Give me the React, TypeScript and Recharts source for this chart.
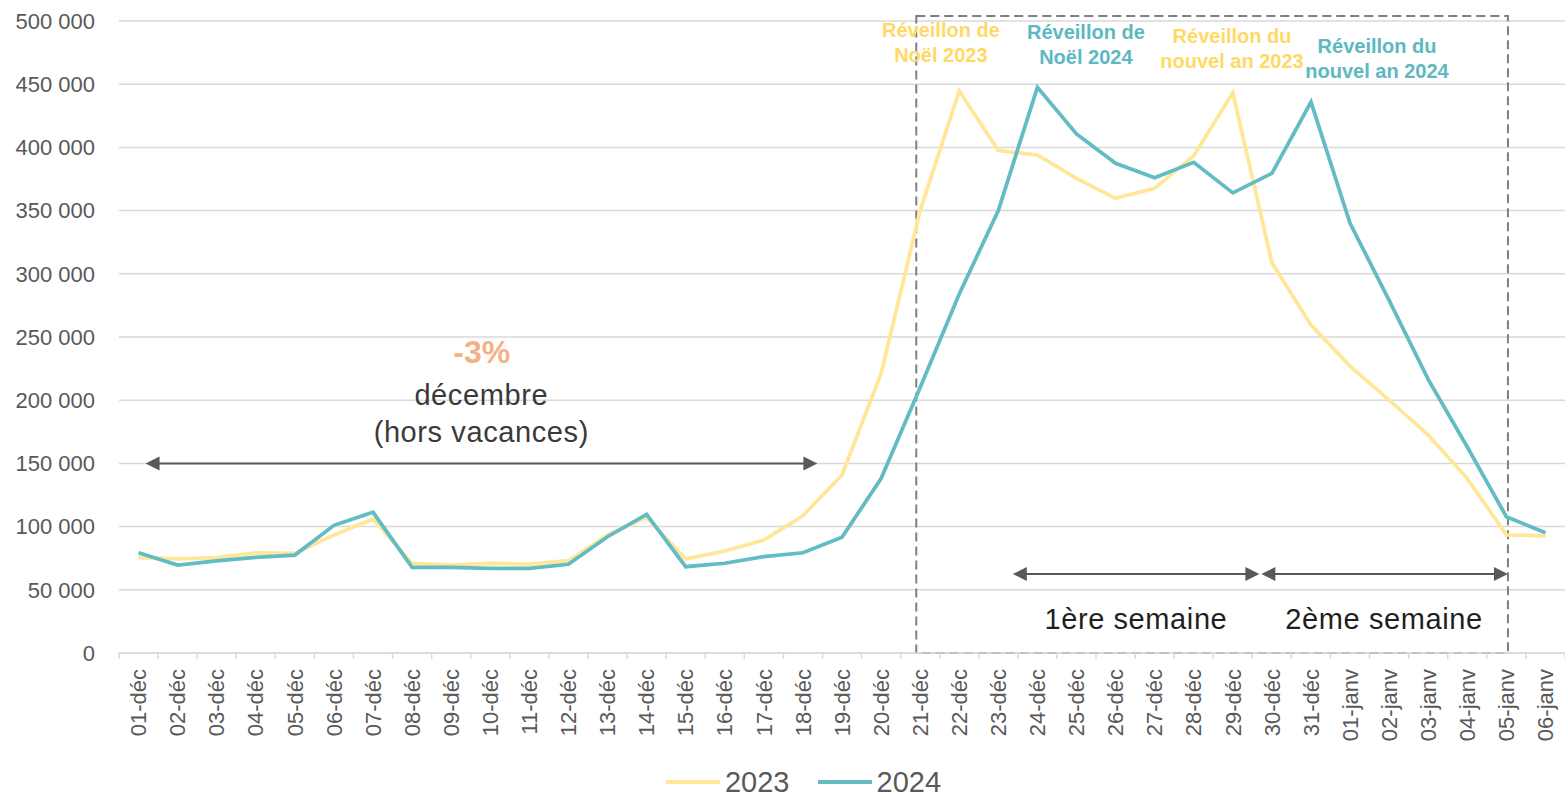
import React from 'react';
import {
  LineChart,
  Line,
  XAxis,
  YAxis,
  CartesianGrid,
  Legend,
  ReferenceArea,
  ReferenceLine,
  ReferenceDot,
} from 'recharts';

// ---------- data ----------
const categories = [
  '01-déc', '02-déc', '03-déc', '04-déc', '05-déc', '06-déc', '07-déc', '08-déc', '09-déc', '10-déc',
  '11-déc', '12-déc', '13-déc', '14-déc', '15-déc', '16-déc', '17-déc', '18-déc', '19-déc', '20-déc',
  '21-déc', '22-déc', '23-déc', '24-déc', '25-déc', '26-déc', '27-déc', '28-déc', '29-déc', '30-déc',
  '31-déc', '01-janv', '02-janv', '03-janv', '04-janv', '05-janv', '06-janv',
];

const series2023 = [
  75700, 74400, 75400, 79300, 78900, 93400, 106000, 71000, 69600, 71000,
  70400, 73000, 93400, 107300, 74400, 80700, 89400, 108600, 140800, 221000,
  350000, 444600, 397500, 394000, 375500, 359700, 367600, 393400, 443200, 308800,
  259500, 227000, 200000, 172500, 138000, 93400, 92600,
];

const series2024 = [
  79300, 69600, 72800, 75700, 77500, 101000, 111300, 67800, 67800, 67000,
  67000, 70200, 92000, 109700, 68300, 71000, 76200, 79300, 91500, 138000,
  210000, 284000, 350000, 447600, 410600, 387400, 376000, 388200, 364000, 379500,
  435900, 340000, 279000, 216500, 163000, 107800, 95200,
];

const seriesNames = ['2023', '2024'];
const yTicks = [0, 50000, 100000, 150000, 200000, 250000, 300000, 350000, 400000, 450000, 500000];

// annotation texts (anchored in data coordinates)
const eventNotes = [
  { lines: ['Réveillon de', 'Noël 2023'], x: 20.53, y: 487600, series: 0 },
  { lines: ['Réveillon de', 'Noël 2024'], x: 24.24, y: 485500, series: 1 },
  { lines: ['Réveillon du', 'nouvel an 2023'], x: 27.98, y: 482400, series: 0 },
  { lines: ['Réveillon du', 'nouvel an 2024'], x: 31.69, y: 474900, series: 1 },
];
const changeNote = { text: '-3%', x: 8.78, y: 229200 };
const periodNote = { lines: ['décembre', '(hors vacances)'], x: 8.77, y: 196200 };
const weekNotes = [
  { text: '1ère semaine', x: 25.52, y: 19000 },
  { text: '2ème semaine', x: 31.87, y: 19000 },
];
const arrowNotes = [
  { from: 0.18, to: 17.37, y: 150000 },
  { from: 22.37, to: 28.68, y: 62500 },
  { from: 28.73, to: 35.04, y: 62500 },
];
const holidayBox = { x1: 19.9, x2: 35.04, y1: 0, y2: 504000 };

// ---------- layout / style ----------
const W = 1565;
const H = 799;
const Y_AXIS_W = 119;
const BAND = (W - Y_AXIS_W) / categories.length;
const FONT = '"Liberation Sans", Arial, Helvetica, sans-serif';
const LINE_COLORS = ['#FFE699', '#63BCC4'];
const TEXT_COLORS = ['#FFD966', '#5DB8C1'];
const AXIS_TEXT = '#595959';
const GRID = '#d9d9d9';

const data = categories.map((c, i) => ({
  idx: i,
  label: c,
  v2023: series2023[i],
  v2024: series2024[i],
}));
const tickIdx = categories.map((_, i) => i);

const fmt = (v: number) => String(v).replace(/\B(?=(\d{3})+(?!\d))/g, ' ');

const XTick = (props: any) => {
  const { x, y, payload, index } = props;
  const label = categories[payload.value];
  const last = index === categories.length - 1;
  return (
    <g>
      <line x1={x - BAND / 2} y1={y} x2={x - BAND / 2} y2={y + 6} stroke={GRID} strokeWidth={1.5} />
      {last && <line x1={x + BAND / 2} y1={y} x2={x + BAND / 2} y2={y + 6} stroke={GRID} strokeWidth={1.5} />}
      <text
        transform={`translate(${x},${y + 16}) rotate(-90)`}
        textAnchor="end"
        dy="0.35em"
        fill={AXIS_TEXT}
        fontSize={22}
        fontFamily={FONT}
      >
        {label}
      </text>
    </g>
  );
};

const textShape =
  (lines: string[], color: string, size: number, weight: string | number, lh: number, ls = 0) =>
  (p: any) => (
    <text
      x={p.cx}
      y={p.cy}
      textAnchor="middle"
      fill={color}
      fontSize={size}
      fontWeight={weight}
      letterSpacing={ls}
      fontFamily={FONT}
    >
      {lines.map((l, i) => (
        <tspan key={i} x={p.cx} dy={i === 0 ? 0 : lh}>
          {l}
        </tspan>
      ))}
    </text>
  );

const arrowShape = (p: any) => {
  const { x1, y1, x2 } = p;
  const a = Math.min(x1, x2);
  const b = Math.max(x1, x2);
  const L = 14;
  const h = 7;
  const c = '#595959';
  return (
    <g>
      <line x1={a + L - 1} y1={y1} x2={b - L + 1} y2={y1} stroke={c} strokeWidth={2} />
      <polygon points={`${a},${y1} ${a + L},${y1 - h} ${a + L},${y1 + h}`} fill={c} />
      <polygon points={`${b},${y1} ${b - L},${y1 - h} ${b - L},${y1 + h}`} fill={c} />
    </g>
  );
};

const LegendContent = () => (
  <div
    style={{
      height: 34,
      display: 'flex',
      justifyContent: 'center',
      alignItems: 'flex-end',
      paddingLeft: 42,
      paddingBottom: 5,
      boxSizing: 'border-box',
      fontFamily: FONT,
    }}
  >
    {seriesNames.map((n, i) => (
      <div
        key={n}
        style={{ display: 'flex', alignItems: 'center', height: 24, marginRight: i === 0 ? 28 : 0 }}
      >
        <svg width={54} height={6} style={{ display: 'block' }}>
          <line x1={0} y1={3} x2={54} y2={3} stroke={LINE_COLORS[i]} strokeWidth={4} />
        </svg>
        <span style={{ marginLeft: 5, fontSize: 29, lineHeight: '24px', color: AXIS_TEXT }}>{n}</span>
      </div>
    ))}
  </div>
);

export default function App() {
  return (
    <div
      style={{
        position: 'fixed',
        left: 0,
        top: 0,
        width: W,
        height: H,
        background: '#ffffff',
        overflow: 'hidden',
        fontFamily: FONT,
      }}
    >
      <LineChart width={W} height={H} data={data} margin={{ top: 21, right: 0, left: 0, bottom: 0 }}>
        <CartesianGrid vertical={false} stroke={GRID} strokeWidth={1.5} />
        <XAxis
          type="number"
          dataKey="idx"
          domain={[-0.5, categories.length - 0.5]}
          allowDataOverflow
          ticks={tickIdx}
          interval={0}
          tickLine={false}
          tickSize={0}
          tickMargin={0}
          axisLine={{ stroke: GRID, strokeWidth: 1.5 }}
          height={112}
          tick={(p: any) => <XTick {...p} />}
        />
        <YAxis
          domain={[0, 500000]}
          allowDataOverflow
          ticks={yTicks}
          interval={0}
          width={Y_AXIS_W}
          tickLine={false}
          axisLine={false}
          tickMargin={18}
          tickFormatter={fmt}
          tick={{ fill: AXIS_TEXT, fontSize: 22, fontFamily: FONT }}
        />
        <Legend verticalAlign="bottom" align="center" content={() => <LegendContent />} />

        <ReferenceArea
          x1={holidayBox.x1}
          x2={holidayBox.x2}
          y1={holidayBox.y1}
          y2={holidayBox.y2}
          ifOverflow="visible"
          fill="none"
          fillOpacity={0}
          stroke="#7f7f7f"
          strokeWidth={2}
          strokeDasharray="9 5"
        />

        <Line
          type="linear"
          dataKey="v2023"
          name={seriesNames[0]}
          stroke={LINE_COLORS[0]}
          strokeWidth={3.75}
          dot={false}
          activeDot={false}
          isAnimationActive={false}
        />
        <Line
          type="linear"
          dataKey="v2024"
          name={seriesNames[1]}
          stroke={LINE_COLORS[1]}
          strokeWidth={3.75}
          dot={false}
          activeDot={false}
          isAnimationActive={false}
        />

        {arrowNotes.map((a, i) => (
          <ReferenceLine
            key={`arr${i}`}
            segment={[
              { x: a.from, y: a.y },
              { x: a.to, y: a.y },
            ]}
            ifOverflow="visible"
            shape={arrowShape}
          />
        ))}

        {eventNotes.map((n, i) => (
          <ReferenceDot
            key={`ev${i}`}
            x={n.x}
            y={n.y}
            r={0}
            ifOverflow="visible"
            shape={textShape(n.lines, TEXT_COLORS[n.series], 20, 700, 25)}
          />
        ))}

        <ReferenceDot
          x={changeNote.x}
          y={changeNote.y}
          r={0}
          ifOverflow="visible"
          shape={textShape([changeNote.text], '#F4B183', 32, 700, 0)}
        />
        <ReferenceDot
          x={periodNote.x}
          y={periodNote.y}
          r={0}
          ifOverflow="visible"
          shape={textShape(periodNote.lines, '#3a3a3a', 29, 400, 37, 0.6)}
        />
        {weekNotes.map((n, i) => (
          <ReferenceDot
            key={`wk${i}`}
            x={n.x}
            y={n.y}
            r={0}
            ifOverflow="visible"
            shape={textShape([n.text], '#1f1f1f', 29, 400, 0, 0.6)}
          />
        ))}
      </LineChart>
    </div>
  );
}
